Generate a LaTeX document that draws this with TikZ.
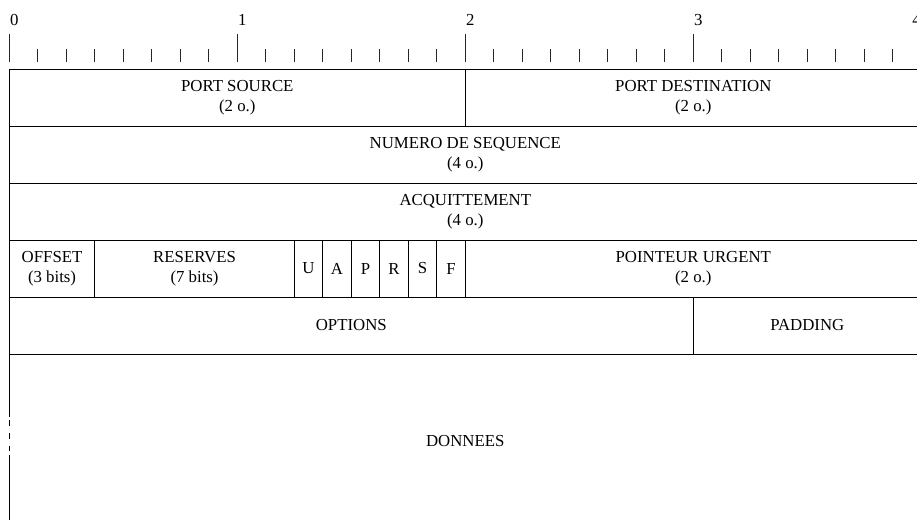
\documentclass[tikz,border=0pt]{standalone}
\usepackage{fontspec}
\setmainfont{Liberation Serif}
\newcommand\fieldfont{\fontsize{16.8}{20.5}\selectfont}
\newcommand\fld[5]{\node[field, minimum width={(#3-#2)*28.5pt}, minimum height=57pt] (#1) at ({9.3+(#2+#3)*14.25}, #4) {#5};}
\begin{document}
\begin{tikzpicture}[x=1pt,y=-1pt,line width=0.8pt,
  field/.style={draw, inner sep=0pt, align=center, font=\fieldfont},
  tick/.style={line width=0.7pt, black!85},
  scalelabel/.style={anchor=base west, inner sep=0pt, font=\fieldfont}]
\clip (0,0) rectangle (917,519);
% ruler
\foreach \i in {0,...,32} {
  \draw[tick] ({9.3+28.5*\i},49) -- ({9.3+28.5*\i},62);
}
\foreach \i/\n in {0/0,8/1,16/2,24/3} {
  \draw[tick] ({9.3+28.5*\i},34) -- ({9.3+28.5*\i},49);
  \node[scalelabel] (lab\n) at ({9.6+28.5*\i},25.5) {\n};
}
\draw[tick] ({9.3+28.5*32},34) -- ({9.3+28.5*32},49);
\node[scalelabel] (lab4) at (912,25.5) {4};
% row 1
\fld{psrc}{0}{16}{97.5}{PORT SOURCE\\(2 o.)}
\fld{pdst}{16}{32}{97.5}{PORT DESTINATION\\(2 o.)}
% row 2
\fld{seq}{0}{32}{154.5}{NUMERO DE SEQUENCE\\(4 o.)}
% row 3
\fld{ack}{0}{32}{211.5}{ACQUITTEMENT\\(4 o.)}
% row 4
\fld{off}{0}{3}{268.5}{OFFSET\\(3 bits)}
\fld{res}{3}{10}{268.5}{RESERVES\\(7 bits)}
\fld{fu}{10}{11}{268.5}{U}
\fld{fa}{11}{12}{268.5}{A}
\fld{fp}{12}{13}{268.5}{P}
\fld{fr}{13}{14}{268.5}{R}
\fld{fs}{14}{15}{268.5}{S}
\fld{ff}{15}{16}{268.5}{F}
\fld{urg}{16}{32}{268.5}{POINTEUR URGENT\\(2 o.)}
% row 5
\fld{opt}{0}{24}{325.5}{OPTIONS}
\fld{pad}{24}{32}{325.5}{PADDING}
% data
\node[field, draw=none, minimum width=912pt, minimum height=174pt] (data) at (465.3,441) {DONNEES};
\draw (data.north west) -- ([yshift=-63pt]data.north west);
\draw[dash pattern=on 6pt off 7pt] ([yshift=-66pt]data.north west) -- ([yshift=-97pt]data.north west);
\draw ([yshift=-101pt]data.north west) -- (data.south west) -- (data.south east) -- (data.north east);
\end{tikzpicture}
\end{document}
